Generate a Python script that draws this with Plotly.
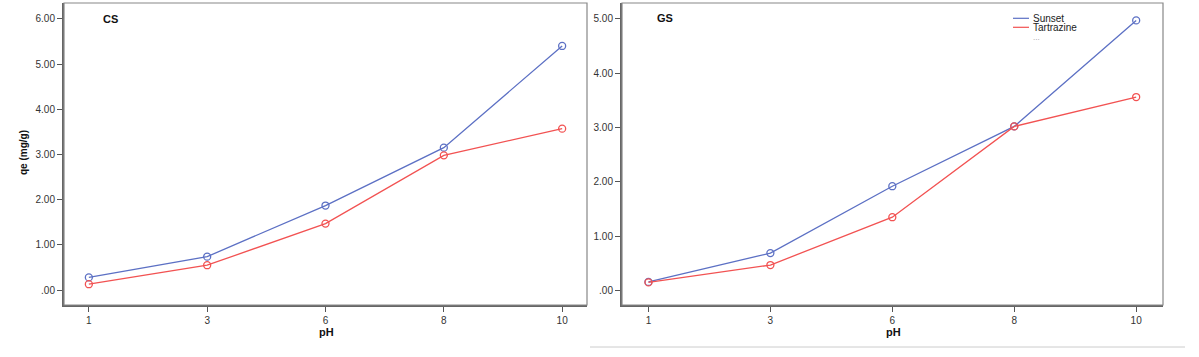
import plotly.graph_objects as go

ph_labels = ["1", "3", "6", "8", "10"]
cs_sunset = [0.28, 0.74, 1.87, 3.15, 5.40]
cs_tartrazine = [0.13, 0.55, 1.47, 2.98, 3.57]
gs_sunset = [0.16, 0.69, 1.92, 3.02, 4.97]
gs_tartrazine = [0.15, 0.47, 1.35, 3.02, 3.56]

cs_yticks = [0, 1, 2, 3, 4, 5, 6]
cs_yticktext = [".00", "1.00", "2.00", "3.00", "4.00", "5.00", "6.00"]
gs_yticks = [0, 1, 2, 3, 4, 5]
gs_yticktext = [".00", "1.00", "2.00", "3.00", "4.00", "5.00"]

legend_names = ["Sunset", "Tartrazine", "..."]

BLUE = "rgb(92,112,196)"
RED = "rgb(242,82,82)"
FONT = "Liberation Sans, Arial, sans-serif"

fig = go.Figure()

def add_series(xa, ya, y, name, color):
    fig.add_trace(go.Scatter(
        x=ph_labels, y=y, xaxis=xa, yaxis=ya, name=name, mode="lines+markers",
        line=dict(color=color, width=1.3),
        marker=dict(symbol="circle-open", size=7, color=color, line=dict(width=1.3)),
        showlegend=False))

add_series("x", "y", cs_sunset, "Sunset", BLUE)
add_series("x", "y", cs_tartrazine, "Tartrazine", RED)
add_series("x2", "y2", gs_sunset, "Sunset", BLUE)
add_series("x2", "y2", gs_tartrazine, "Tartrazine", RED)

W, H = 1199, 357
yb, yt = 1 - 305 / H, 1 - 3 / H
d1 = [64 / W, 587 / W]
d2 = [622 / W, 1163 / W]

axis_common = dict(showgrid=False, zeroline=False, showline=True, linecolor="#666",
                   linewidth=2, ticks="outside", ticklen=5, tickcolor="#555",
                   tickfont=dict(family=FONT, size=10, color="#333"))

fig.update_layout(
    width=W, height=H, margin=dict(l=0, r=0, t=0, b=0),
    paper_bgcolor="white", plot_bgcolor="white",
    xaxis=dict(domain=d1, anchor="y", type="category", range=[-0.21, 4.21], **axis_common),
    yaxis=dict(domain=[yb, yt], anchor="x", range=[-0.33, 6.35],
               tickvals=cs_yticks, ticktext=cs_yticktext, **axis_common),
    xaxis2=dict(domain=d2, anchor="y2", type="category", range=[-0.217, 4.22], **axis_common),
    yaxis2=dict(domain=[yb, yt], anchor="x2", range=[-0.265, 5.29],
                tickvals=gs_yticks, ticktext=gs_yticktext, **axis_common),
    showlegend=False,
)

def px(x):
    return x / W

def py(y):
    return 1 - y / H

shapes = []
for d in (d1, d2):
    shapes.append(dict(type="rect", xref="paper", yref="paper", x0=d[0], x1=d[1], y0=yb, y1=yt,
                       line=dict(color="#888", width=1.2), fillcolor="rgba(0,0,0,0)"))
shapes.append(dict(type="line", xref="paper", yref="paper", x0=px(590), x1=px(1185),
                   y0=py(347), y1=py(347), line=dict(color="#ccc", width=1)))

# manual legend
leg_y = [18.3, 27.3, 37.5]
leg_colors = [BLUE, RED, None]
annotations = []
for name, yy, col in zip(legend_names, leg_y, leg_colors):
    if col:
        shapes.append(dict(type="line", xref="paper", yref="paper", x0=px(1013), x1=px(1029),
                           y0=py(yy), y1=py(yy), line=dict(color=col, width=1.2)))
    annotations.append(dict(text=name, x=px(1031), y=py(yy), xref="paper", yref="paper",
                            showarrow=False, xanchor="left", yanchor="middle",
                            font=dict(family=FONT, size=10 if col else 8, color="#222" if col else "#999")))
fig.update_layout(shapes=shapes)

for text, x, y in [("<b>CS</b>", 101, 18.5), ("<b>GS</b>", 655, 18)]:
    annotations.append(dict(text=text, x=px(x), y=py(y), xref="paper", yref="paper",
                            showarrow=False, xanchor="left", yanchor="middle",
                            font=dict(family=FONT, size=11, color="#111")))
for x in (326, 893):
    annotations.append(dict(text="<b>pH</b>", x=px(x), y=py(332), xref="paper", yref="paper",
                            showarrow=False, xanchor="center", yanchor="middle",
                            font=dict(family=FONT, size=11, color="#111")))
annotations.append(dict(text="<b>qe (mg/g)</b>", x=px(23), y=py(153), xref="paper", yref="paper",
                        showarrow=False, textangle=-90, xanchor="center", yanchor="middle",
                        font=dict(family=FONT, size=10, color="#111")))
fig.update_layout(annotations=annotations)

fig.write_html("out.html", config={"displayModeBar": False},
               post_script="document.body.style.margin='0';document.body.style.padding='0';")
